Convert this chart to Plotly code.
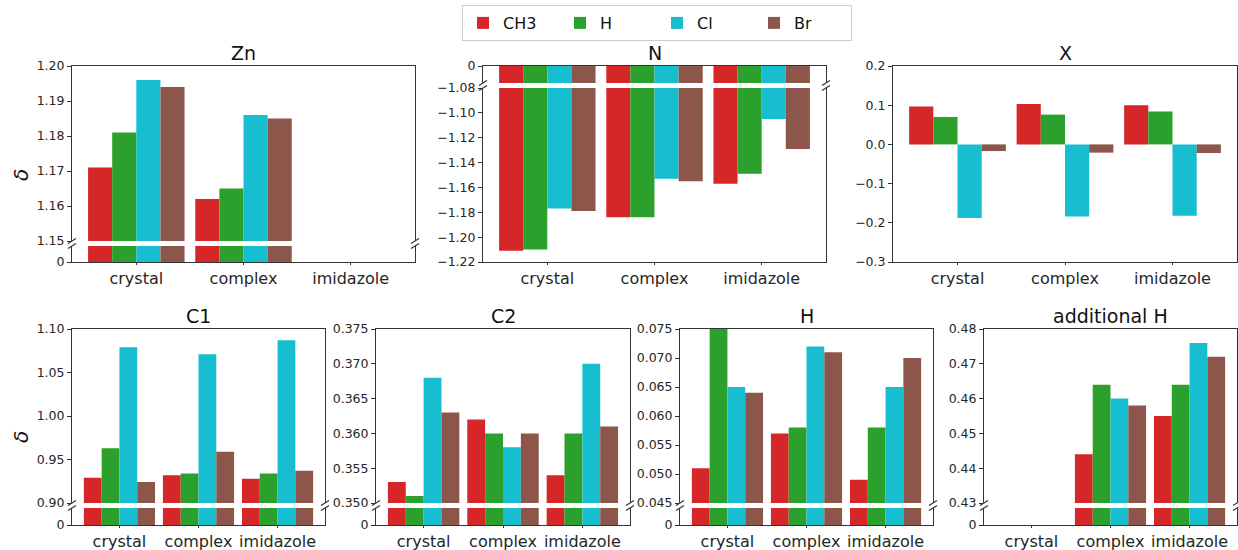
import plotly.graph_objects as go

# ---------------- data ----------------
categories = ["crystal", "complex", "imidazole"]
series = ["CH3", "H", "Cl", "Br"]
colors = ["#d62728", "#2ca02c", "#17becf", "#8c564b"]

# values per series: [crystal, complex, imidazole]
zn_values = [[1.171, 1.162, None],
             [1.181, 1.165, None],
             [1.196, 1.186, None],
             [1.194, 1.185, None]]
n_values = [[-1.211, -1.184, -1.157],
            [-1.210, -1.184, -1.149],
            [-1.177, -1.153, -1.105],
            [-1.179, -1.155, -1.129]]
x_values = [[0.097, 0.103, 0.100],
            [0.070, 0.076, 0.084],
            [-0.188, -0.184, -0.182],
            [-0.017, -0.021, -0.022]]
c1_values = [[0.929, 0.932, 0.928],
             [0.963, 0.934, 0.934],
             [1.079, 1.071, 1.087],
             [0.924, 0.959, 0.937]]
c2_values = [[0.353, 0.362, 0.354],
             [0.351, 0.360, 0.360],
             [0.368, 0.358, 0.370],
             [0.363, 0.360, 0.361]]
h_values = [[0.051, 0.057, 0.049],
            [0.075, 0.058, 0.058],
            [0.065, 0.072, 0.065],
            [0.064, 0.071, 0.070]]
addh_values = [[None, 0.444, 0.455],
               [None, 0.464, 0.464],
               [None, 0.460, 0.476],
               [None, 0.458, 0.472]]

zn_ticks = [1.15, 1.16, 1.17, 1.18, 1.19, 1.20]
n_ticks = [-1.22, -1.20, -1.18, -1.16, -1.14, -1.12, -1.10, -1.08]
x_ticks = [-0.3, -0.2, -0.1, 0.0, 0.1, 0.2]
c1_ticks = [0.90, 0.95, 1.00, 1.05, 1.10]
c2_ticks = [0.350, 0.355, 0.360, 0.365, 0.370, 0.375]
h_ticks = [0.045, 0.050, 0.055, 0.060, 0.065, 0.070, 0.075]
addh_ticks = [0.43, 0.44, 0.45, 0.46, 0.47, 0.48]
stub_ticks = [0]

# ---------------- layout helpers ----------------
W, H = 1238, 550
AX = "#333333"
TXT = "#262626"
FONT = "DejaVu Sans"

fig = go.Figure()
layout = {}
shapes = []
annotations = []
counter = [0]


def fx(px):
    return px / W


def fy(py):
    return 1 - py / H


def add_subplot(values, xdom, ydom, yrange, tickvals, fmt, kind, legend=False):
    counter[0] += 1
    i = counter[0]
    xs = "" if i == 1 else str(i)
    xa = dict(domain=[fx(xdom[0]), fx(xdom[1])], anchor="y" + xs,
              range=[-0.6, 2.6], showgrid=False, zeroline=False,
              showline=True, linecolor=AX, linewidth=1, fixedrange=True)
    if kind == "top":      # upper part of a broken axis: only top spine
        xa.update(side="top", mirror=False, tickvals=[], showticklabels=False, ticks="")
    elif kind == "bottom":  # lower part: bottom spine with category ticks
        xa.update(side="bottom", mirror=False, tickvals=[0, 1, 2], ticktext=categories,
                  ticks="outside", ticklen=2, tickcolor=AX,
                  tickfont=dict(size=16, color=TXT, family=FONT))
    else:                  # full frame
        xa.update(side="bottom", mirror=True, tickvals=[0, 1, 2], ticktext=categories,
                  ticks="outside", ticklen=2, tickcolor=AX,
                  tickfont=dict(size=16, color=TXT, family=FONT))
    ya = dict(domain=[fy(ydom[1]), fy(ydom[0])], anchor="x" + xs, range=yrange,
              showgrid=False, zeroline=False, showline=True, mirror=True,
              linecolor=AX, linewidth=1, ticks="outside", ticklen=4, tickcolor=AX,
              tickvals=tickvals, tickformat=fmt,
              tickfont=dict(size=12.5, color=TXT, family=FONT), fixedrange=True)
    layout["xaxis" + xs] = xa
    layout["yaxis" + xs] = ya
    for s, name in enumerate(series):
        fig.add_trace(go.Bar(x=[0, 1, 2], y=values[s], name=name,
                             marker=dict(color=colors[s], line=dict(width=0)),
                             xaxis="x" + xs, yaxis="y" + xs,
                             legendgroup=name, showlegend=legend))


def add_break_marks(xdom, y_list):
    for xp in xdom:
        for yp in y_list:
            shapes.append(dict(type="line", xref="paper", yref="paper",
                               x0=fx(xp - 4), y0=fy(yp + 2.5), x1=fx(xp + 4), y1=fy(yp - 2.5),
                               line=dict(color=AX, width=1.2)))


def add_title(text, xdom, ypx):
    annotations.append(dict(text=text, xref="paper", yref="paper",
                            x=fx((xdom[0] + xdom[1]) / 2), y=fy(ypx),
                            xanchor="center", yanchor="middle", showarrow=False,
                            font=dict(size=19, color="#111111", family=FONT)))


# top row geometry
TOP, BOT = 66, 262
zn_x = (72, 415)
n_x = (483, 826)
xx_x = (893, 1237)
# bottom row geometry
TOP2, BOT2 = 329, 525
c1_x = (72, 325)
c2_x = (376, 630)
h_x = (680, 933)
ah_x = (984, 1237)

# Zn: main on top, stub at bottom
add_subplot(zn_values, zn_x, (TOP, 241), [1.15, 1.20], zn_ticks, ".2f", "top", legend=True)
add_subplot(zn_values, zn_x, (246, BOT), [0, 0.5], stub_ticks, "", "bottom")
add_break_marks(zn_x, [241, 246])
add_title("Zn", zn_x, 53)

# N: stub on top, main at bottom
add_subplot(n_values, n_x, (TOP, 83), [-0.5, 0], stub_ticks, "", "top")
add_subplot(n_values, n_x, (88, BOT), [-1.22, -1.08], n_ticks, ".2f", "bottom")
add_break_marks(n_x, [83, 88])
add_title("N", n_x, 53)

# X: no break
add_subplot(x_values, xx_x, (TOP, BOT), [-0.3, 0.2], x_ticks, ".1f", "full")
add_title("X", xx_x, 53)

# bottom row: main on top, stub at bottom
bottom_panels = [
    ("C1", c1_values, c1_x, [0.90, 1.10], c1_ticks, ".2f", [0, 0.4]),
    ("C2", c2_values, c2_x, [0.350, 0.375], c2_ticks, ".3f", [0, 0.15]),
    ("H", h_values, h_x, [0.045, 0.075], h_ticks, ".3f", [0, 0.02]),
    ("additional H", addh_values, ah_x, [0.43, 0.48], addh_ticks, ".2f", [0, 0.2]),
]
for title, vals, xd, rng, tks, fmt, stub in bottom_panels:
    add_subplot(vals, xd, (TOP2, 503), rng, tks, fmt, "top")
    add_subplot(vals, xd, (508, BOT2), stub, stub_ticks, "", "bottom")
    add_break_marks(xd, [503, 508])
    add_title(title, xd, 316)

# y labels
for ypx in (175, 437):
    annotations.append(dict(text="<i>δ</i>", xref="paper", yref="paper",
                            x=fx(21), y=fy(ypx), xanchor="center", yanchor="middle",
                            textangle=-90, showarrow=False,
                            font=dict(size=20, color="#111111", family=FONT)))

fig.update_layout(
    **layout,
    width=W, height=H,
    margin=dict(l=0, r=0, t=0, b=0, autoexpand=False),
    paper_bgcolor="white", plot_bgcolor="white",
    barmode="group", bargap=0.1, bargroupgap=0,
    font=dict(family=FONT, color=TXT),
    shapes=shapes, annotations=annotations,
    legend=dict(orientation="h", x=fx(657), xanchor="center", y=fy(5), yanchor="top",
                bordercolor="#cccccc", borderwidth=1, bgcolor="white",
                font=dict(size=16, color="#111111", family=FONT),
                entrywidth=52, entrywidthmode="pixels",
                traceorder="normal"),
)

fig.write_html("out.html",
               config={"displayModeBar": False},
               post_script="document.body.style.margin='0';document.body.style.overflow='hidden';")
